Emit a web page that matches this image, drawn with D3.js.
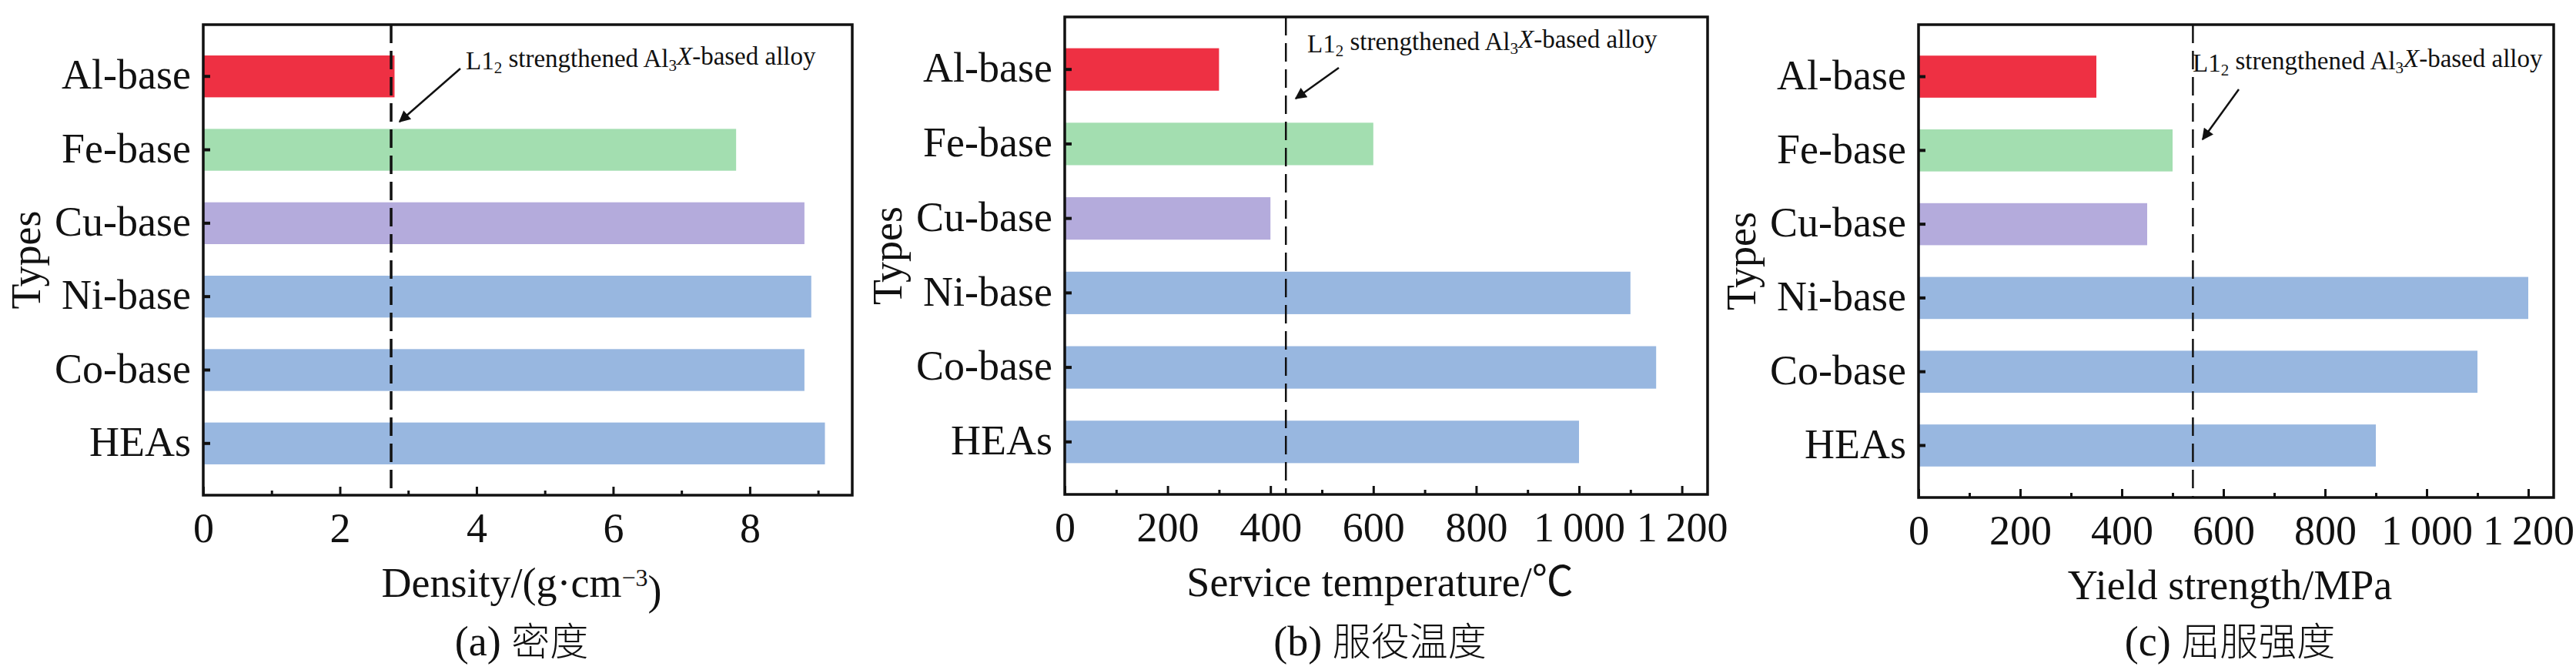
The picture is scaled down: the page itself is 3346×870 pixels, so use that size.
<!DOCTYPE html>
<html>
<head>
<meta charset="utf-8">
<script src="https://cdn.jsdelivr.net/npm/d3@7"></script>
<style>
  html, body { margin: 0; padding: 0; background: #fff; }
  svg { display: block; }
  .serif { font-family: "Liberation Serif", "Times New Roman", "Noto Sans CJK SC", serif; }
</style>
</head>
<body>
<div id="chart"></div>
<script>
// Data
const categories = ['Al-base', 'Fe-base', 'Cu-base', 'Ni-base', 'Co-base', 'HEAs'];
const densityValues = [2.8, 7.8, 8.8, 8.9, 8.8, 9.1];
const temperatureValues = [300, 600, 400, 1100, 1150, 1000];
const strengthValues = [350, 500, 450, 1200, 1100, 900];

const densityTicks = [0, 2, 4, 6, 8];
const densityMinorTicks = [1, 3, 5, 7, 9];
const kiloTicks = [0, 200, 400, 600, 800, 1000, 1200];
const kiloMinorTicks = [100, 300, 500, 700, 900, 1100];

// L12 strengthened Al3X-based alloy reference values
const refDensity = 2.75;
const refTemperature = 430;
const refStrength = 540;

const barColors = ['#ee3043', '#a3deb0', '#b4abdc', '#98b7e0', '#98b7e0', '#98b7e0'];

const W = 3346, H = 870;

const panels = [
  {
    values: densityValues, max: 9.5, ticks: densityTicks, minor: densityMinorTicks, ref: refDensity,
    left: 264, right: 1107, top: 32, bottom: 643,
    title: 'density', caption: ['(a) ', '密度'],
    note: { x: 605, y: 90, from: [598, 89], to: [519, 158] }, dashWidth: 3.5
  },
  {
    values: temperatureValues, max: 1250, ticks: kiloTicks, minor: kiloMinorTicks, ref: refTemperature,
    left: 1383, right: 2218, top: 22, bottom: 642,
    title: 'Service temperature/℃', caption: ['(b) ', '服役温度'],
    note: { x: 1698, y: 68, from: [1739, 88], to: [1683, 128] }, dashWidth: 2.5
  },
  {
    values: strengthValues, max: 1250, ticks: kiloTicks, minor: kiloMinorTicks, ref: refStrength,
    left: 2492, right: 3317, top: 32, bottom: 646,
    title: 'Yield strength/MPa', caption: ['(c) ', '屈服强度'],
    note: { x: 2848, y: 93, from: [2908, 116], to: [2861, 181] }, dashWidth: 2.5
  }
];

const svg = d3.select('#chart').append('svg')
  .attr('width', W).attr('height', H)
  .attr('class', 'serif')
  .style('background', '#fff');

svg.append('defs').append('marker')
  .attr('id', 'arrow')
  .attr('viewBox', '0 0 10 10')
  .attr('refX', 9).attr('refY', 5)
  .attr('markerWidth', 8).attr('markerHeight', 6)
  .attr('markerUnits', 'strokeWidth')
  .attr('orient', 'auto')
  .append('path')
  .attr('d', 'M0,0 L10,5 L0,10 Z')
  .attr('fill', '#111');

const fmt = v => v >= 1000 ? d3.format(',')(v).replace(',', '\u2009') : String(v);

function drawPanel(p) {
  const g = svg.append('g');

  const x = d3.scaleLinear().domain([0, p.max]).range([p.left, p.right]);
  const y = d3.scaleBand().domain(categories).range([p.top, p.bottom])
    .paddingInner(0.43).paddingOuter(0.42);

  // Bars
  g.selectAll('.bar')
    .data(categories).enter().append('rect')
    .attr('x', x(0))
    .attr('y', d => y(d))
    .attr('width', (d, i) => x(p.values[i]) - x(0))
    .attr('height', y.bandwidth())
    .attr('fill', (d, i) => barColors[i]);

  // Reference dashed line
  g.append('line')
    .attr('x1', x(p.ref)).attr('x2', x(p.ref))
    .attr('y1', p.top).attr('y2', p.bottom)
    .attr('stroke', '#111')
    .attr('stroke-width', p.dashWidth)
    .attr('stroke-dasharray', '24,10');

  // X axis, ticks pointing inward
  const xAxis = g.append('g')
    .attr('transform', `translate(0,${p.bottom})`)
    .call(d3.axisBottom(x).tickValues(p.ticks).tickFormat(fmt).tickSize(-11).tickPadding(23));
  xAxis.select('.domain').remove();
  xAxis.selectAll('line').attr('stroke', '#111').attr('stroke-width', 3);
  xAxis.selectAll('text')
    .attr('fill', '#111')
    .style('font-family', '"Liberation Serif", "Times New Roman", serif')
    .style('font-size', '54px');

  const xMinor = g.append('g')
    .attr('transform', `translate(0,${p.bottom})`)
    .call(d3.axisBottom(x).tickValues(p.minor).tickFormat('').tickSize(-6));
  xMinor.select('.domain').remove();
  xMinor.selectAll('line').attr('stroke', '#111').attr('stroke-width', 3);

  // Y axis
  const yAxis = g.append('g')
    .attr('transform', `translate(${p.left},0)`)
    .call(d3.axisLeft(y).tickSize(-9).tickPadding(16));
  yAxis.select('.domain').remove();
  yAxis.selectAll('line').attr('stroke', '#111').attr('stroke-width', 4);
  yAxis.selectAll('text')
    .attr('fill', '#111')
    .attr('dy', '0.3em')
    .style('font-family', '"Liberation Serif", "Times New Roman", serif')
    .style('font-size', '54px');

  // Frame
  g.append('rect')
    .attr('x', p.left).attr('y', p.top)
    .attr('width', p.right - p.left).attr('height', p.bottom - p.top)
    .attr('fill', 'none')
    .attr('stroke', '#111')
    .attr('stroke-width', 3.5);

  // Axis titles
  const cx = (p.left + p.right) / 2 - 8;
  const title = g.append('text')
    .attr('x', cx).attr('y', p.bottom + 132)
    .attr('text-anchor', 'middle')
    .attr('fill', '#111')
    .style('font-size', '54px');
  if (p.title === 'density') {
    title.append('tspan').text('Density/(g·cm');
    title.append('tspan').attr('dy', '-0.45em').style('font-size', '32px').text('−3');
    title.append('tspan').attr('dy', '0.45em').text(')');
  } else {
    title.text(p.title);
  }

  g.append('text')
    .attr('transform', `translate(${p.left - 212},${(p.top + p.bottom) / 2}) rotate(-90)`)
    .attr('text-anchor', 'middle')
    .attr('fill', '#111')
    .style('font-size', '54px')
    .text('Types');

  // Caption
  const cap = g.append('text')
    .attr('x', cx).attr('y', 851)
    .attr('text-anchor', 'middle')
    .attr('fill', '#111')
    .style('font-size', '54px');
  cap.append('tspan').text(p.caption[0]);
  cap.append('tspan').style('font-family', '"Noto Sans CJK SC", sans-serif')
    .style('font-size', '50px').style('font-weight', '300').text(p.caption[1]);

  // Annotation
  const note = g.append('text')
    .attr('x', p.note.x).attr('y', p.note.y)
    .attr('fill', '#111')
    .style('font-size', '33px');
  note.append('tspan').text('L1');
  note.append('tspan').attr('dy', '0.25em').style('font-size', '21px').text('2');
  note.append('tspan').attr('dy', '-0.25em').text(' strengthened Al');
  note.append('tspan').attr('dy', '0.25em').style('font-size', '21px').text('3');
  note.append('tspan').attr('dy', '-0.25em').style('font-style', 'italic').text('X');
  note.append('tspan').text('-based alloy');

  g.append('line')
    .attr('x1', p.note.from[0]).attr('y1', p.note.from[1])
    .attr('x2', p.note.to[0]).attr('y2', p.note.to[1])
    .attr('stroke', '#111')
    .attr('stroke-width', 2.5)
    .attr('marker-end', 'url(#arrow)');
}

panels.forEach(drawPanel);
</script>
</body>
</html>
